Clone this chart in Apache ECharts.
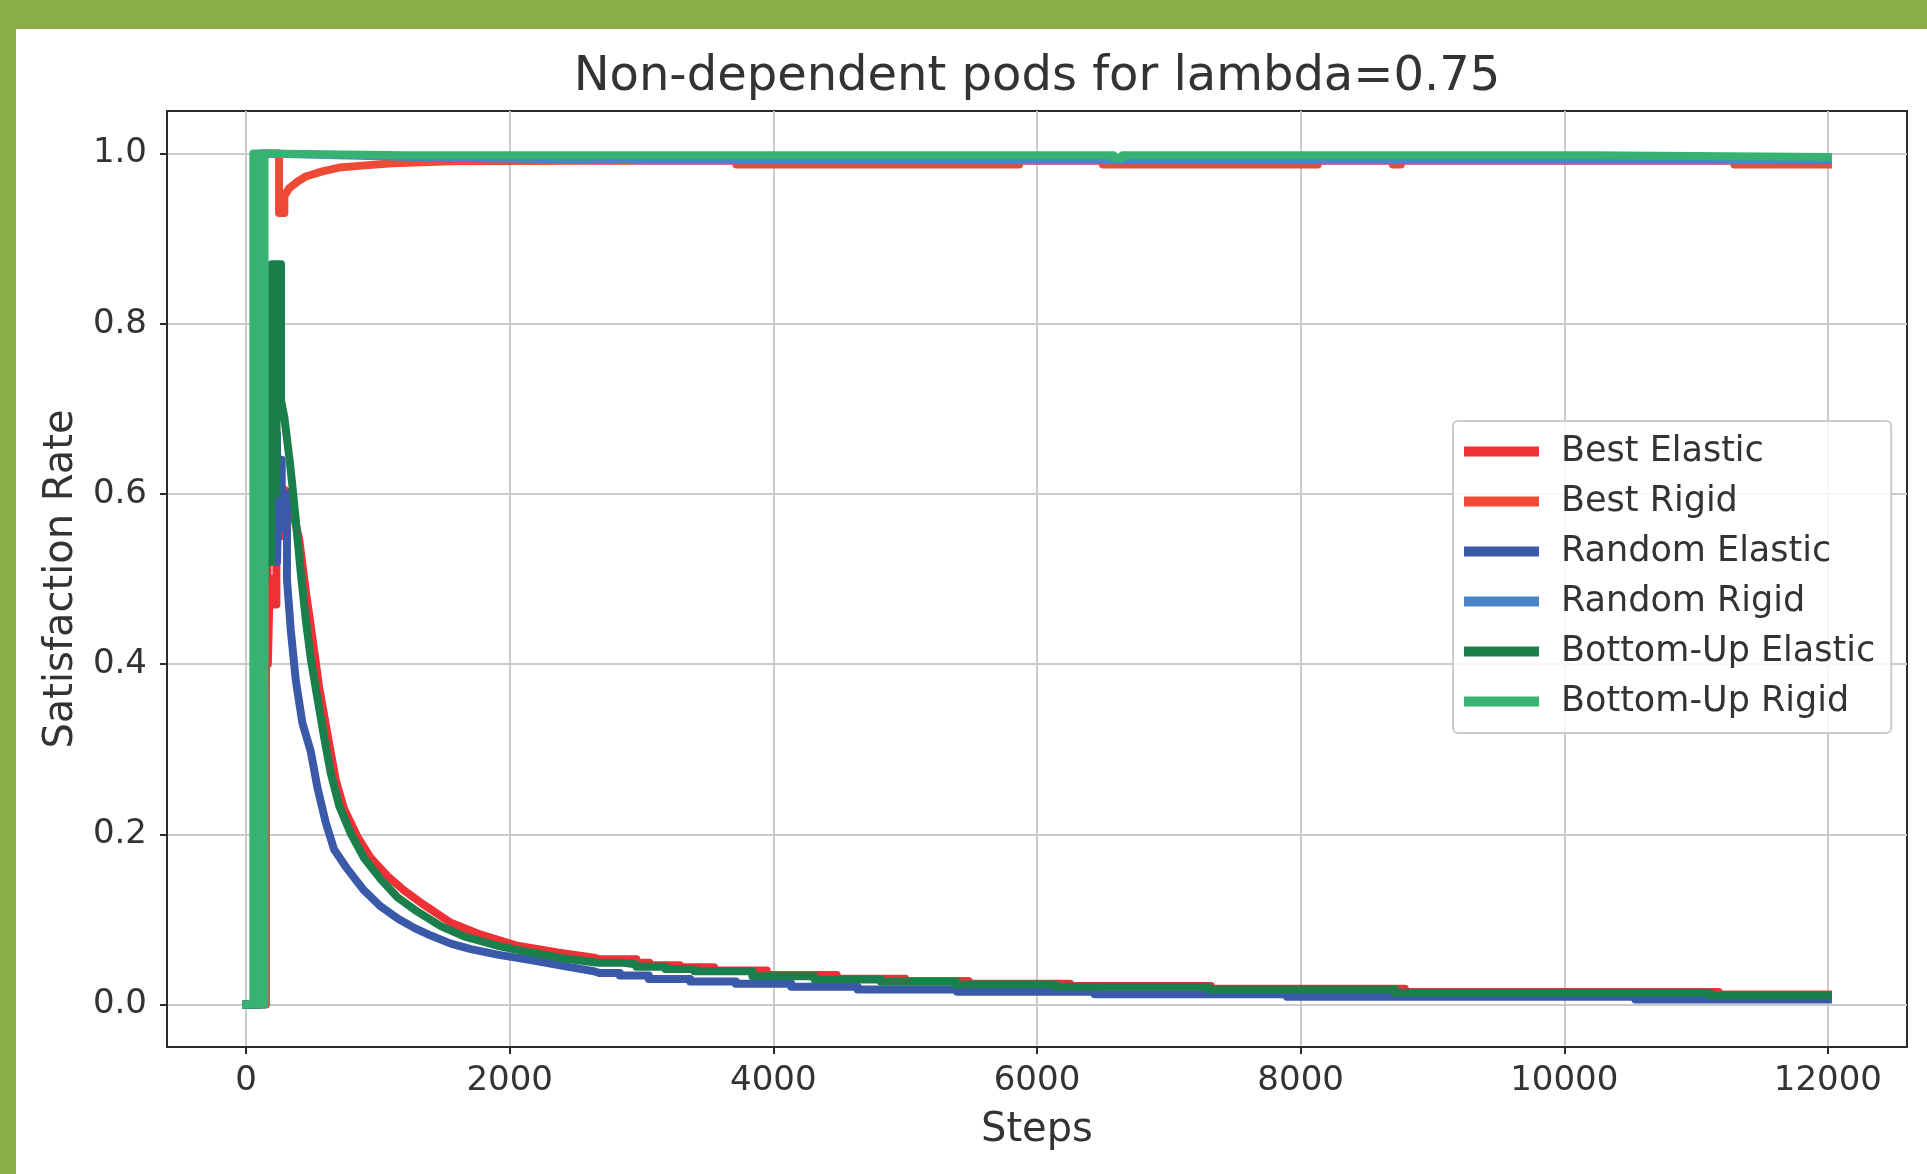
<!DOCTYPE html>
<html>
<head>
<meta charset="utf-8">
<title>Non-dependent pods for lambda=0.75</title>
<script src="https://cdn.jsdelivr.net/npm/echarts/dist/echarts.min.js"></script>
<style>
  html, body {
    margin: 0;
    padding: 0;
    width: 1927px;
    height: 1174px;
    background: #8aad48;
    overflow: hidden;
  }
  #main {
    position: absolute;
    left: 16px;
    top: 29px;
    width: 1911px;
    height: 1145px;
    background: #ffffff;
  }
</style>
</head>
<body>
<div id="main"></div>
<script>
// 数据: [step, satisfaction rate], 台阶处同一 step 写两个点
var seriesNames = ["Best Elastic", "Best Rigid", "Random Elastic", "Random Rigid", "Bottom-Up Elastic", "Bottom-Up Rigid"];
var seriesColors = ["#ed3137", "#ef4a35", "#3a59a8", "#4a86c6", "#1a7f4b", "#38b272"];

var xTicks = [0, 2000, 4000, 6000, 8000, 10000, 12000];
var yTicks = [0, 0.2, 0.4, 0.6, 0.8, 1.0];

var bestElastic = [
  [0, 0], [150, 0], [150, 0.33], [155, 0.33], [155, 0.85], [165, 0.85], [165, 0.40], [180, 0.40],
  [180, 0.5], [200, 0.5], [200, 0.47], [230, 0.47], [230, 0.55], [260, 0.55], [265, 0.61],
  [288, 0.60], [301, 0.604], [351, 0.58], [402, 0.548], [453, 0.486], [503, 0.431], [554, 0.373],
  [617, 0.318], [680, 0.264], [743, 0.230], [845, 0.197], [946, 0.172], [1072, 0.151],
  [1199, 0.134], [1350, 0.117], [1553, 0.096], [1780, 0.082], [2059, 0.069], [2362, 0.061],
  [2640, 0.055], [2678, 0.053], [2960, 0.053], [2960, 0.0489], [3060, 0.0489], [3060, 0.0462],
  [3290, 0.0462], [3290, 0.0438], [3550, 0.0438], [3550, 0.040], [3950, 0.040], [3950, 0.0345],
  [4480, 0.0345], [4480, 0.0303], [5000, 0.0303], [5000, 0.0276], [5480, 0.0276], [5480, 0.0244],
  [6250, 0.0244], [6250, 0.0217], [7320, 0.0217], [7320, 0.0186], [8790, 0.0186], [8790, 0.0147],
  [11170, 0.0147], [11170, 0.0116], [12000, 0.0116]
];

var bestRigid = [
  [0, 0], [110, 0], [110, 1.0], [250, 1.0], [250, 0.93], [290, 0.93], [290, 0.95], [326, 0.959],
  [390, 0.967], [453, 0.973], [579, 0.979], [705, 0.9835], [857, 0.9855], [1110, 0.9887],
  [1565, 0.991], [2500, 0.9915], [3720, 0.9915], [3720, 0.987], [5865, 0.987], [5865, 0.9915],
  [6500, 0.9915], [6500, 0.987], [8130, 0.987], [8130, 0.9915], [8700, 0.9915], [8700, 0.987],
  [8760, 0.987], [8760, 0.9915], [11290, 0.9915], [11290, 0.987], [12000, 0.987]
];

var randomElastic = [
  [0, 0], [110, 0], [110, 0.55], [160, 0.55], [160, 0.6], [210, 0.6], [210, 0.67], [235, 0.67],
  [235, 0.52], [250, 0.52], [250, 0.64], [270, 0.64], [270, 0.56], [290, 0.56], [290, 0.6],
  [310, 0.6], [310, 0.5], [339, 0.44], [377, 0.381], [427, 0.331], [491, 0.297], [541, 0.255],
  [604, 0.214], [668, 0.182], [769, 0.159], [895, 0.134], [1022, 0.115], [1150, 0.101],
  [1275, 0.090], [1401, 0.081], [1553, 0.0715], [1705, 0.065], [1907, 0.0586], [2160, 0.0523],
  [2413, 0.045], [2640, 0.039], [2678, 0.0371], [2835, 0.0371], [2835, 0.034], [3055, 0.034],
  [3055, 0.030], [3369, 0.030], [3369, 0.027], [3715, 0.027], [3715, 0.0242], [4136, 0.0242],
  [4136, 0.0207], [4639, 0.0207], [4639, 0.0176], [5394, 0.0176], [5394, 0.0149], [6438, 0.0149],
  [6438, 0.0121], [7897, 0.0121], [7897, 0.009], [10539, 0.009], [10539, 0.0059], [12000, 0.0059]
];

var randomRigid = [
  [0, 0], [130, 0], [130, 1.0], [1500, 0.995], [3000, 0.992], [12000, 0.992]
];

var bottomUpElastic = [
  [0, 0], [100, 0], [100, 0.5], [145, 0.5], [145, 0.8], [160, 0.8], [160, 0.55], [175, 0.55],
  [175, 0.78], [190, 0.78], [190, 0.52], [195, 0.52], [195, 0.87], [230, 0.87], [230, 0.6],
  [235, 0.6], [235, 0.87], [265, 0.87], [265, 0.71], [290, 0.69], [330, 0.64], [351, 0.61],
  [377, 0.569], [415, 0.507], [453, 0.452], [491, 0.406], [541, 0.360], [592, 0.314],
  [642, 0.272], [705, 0.234], [794, 0.201], [895, 0.172], [1022, 0.147], [1148, 0.126],
  [1300, 0.109], [1477, 0.092], [1654, 0.080], [1907, 0.069], [2160, 0.061], [2413, 0.054],
  [2640, 0.0495], [2678, 0.0489], [2867, 0.0489], [2867, 0.0469], [2961, 0.0469], [2961, 0.0442],
  [3181, 0.0442], [3181, 0.0418], [3401, 0.0418], [3401, 0.039], [3841, 0.039], [3841, 0.0332],
  [4313, 0.0332], [4313, 0.0293], [4816, 0.0293], [4816, 0.0266], [5382, 0.0266], [5382, 0.0234],
  [6137, 0.0234], [6137, 0.0207], [7300, 0.0207], [7300, 0.0176], [8715, 0.0176], [8715, 0.0137],
  [11105, 0.0137], [11105, 0.0106], [12000, 0.0106]
];

var bottomUpRigid = [
  [0, 0], [55, 0], [55, 1.0], [85, 1.0], [85, 0], [100, 0], [100, 1.0], [120, 1.0], [120, 0],
  [140, 0], [140, 1.0], [1200, 0.998], [6580, 0.998], [6580, 0.995], [6650, 0.995], [6650, 0.998],
  [10190, 0.998], [10190, 0.996], [12000, 0.996]
];

var seriesData = [bestElastic, bestRigid, randomElastic, randomRigid, bottomUpElastic, bottomUpRigid];

var fontFamily = "DejaVu Sans";
var textColor = "#333333";
var frameColor = "#2b2b2b";
var gridColor = "#cbcbcb";

var chartDom = document.getElementById("main");
var myChart = echarts.init(chartDom, null, { renderer: "canvas" });

var series = seriesNames.map(function (name, i) {
  return {
    name: name,
    type: "line",
    data: seriesData[i],
    showSymbol: false,
    color: seriesColors[i],
    lineStyle: { width: 8, color: seriesColors[i], cap: "square", join: "round" },
    emphasis: { disabled: true },
  };
});

var option = {
  animation: false,
  backgroundColor: "#ffffff",
  textStyle: { fontFamily: fontFamily },
  graphic: [
    {
      type: "text",
      x: 1021,
      y: 25,
      style: {
        text: "Non-dependent pods for lambda=0.75",
        fontFamily: fontFamily,
        fontSize: 48,
        fill: textColor,
        align: "center",
        verticalAlign: "top",
      },
    },
  ],
  grid: {
    left: 151,
    top: 82,
    width: 1740,
    height: 936,
    show: true,
    borderColor: frameColor,
    borderWidth: 2,
    backgroundColor: "transparent",
  },
  legend: {
    orient: "vertical",
    left: 1437,
    top: 392,
    data: seriesNames,
    icon: "rect",
    itemWidth: 75,
    itemHeight: 10,
    itemGap: 9,
    padding: [10, 16, 11, 11],
    backgroundColor: "rgba(255,255,255,0.85)",
    borderColor: "#cccccc",
    borderWidth: 2,
    borderRadius: 5,
    selectedMode: false,
    textStyle: {
      fontFamily: fontFamily,
      fontSize: 35,
      lineHeight: 41,
      color: textColor,
      padding: [0, 0, 0, 17],
    },
  },
  xAxis: {
    type: "value",
    min: -600,
    max: 12600,
    name: "Steps",
    nameLocation: "middle",
    nameGap: 64,
    nameTextStyle: { fontFamily: fontFamily, fontSize: 40, color: textColor },
    axisLine: { show: true, onZero: false, lineStyle: { color: frameColor, width: 2 } },
    axisTick: {
      show: true,
      length: 7,
      customValues: xTicks,
      lineStyle: { color: frameColor, width: 2 },
    },
    axisLabel: {
      customValues: xTicks,
      margin: 17,
      fontFamily: fontFamily,
      fontSize: 34,
      color: textColor,
      formatter: function (v) {
        return String(v);
      },
    },
    splitLine: { show: true, lineStyle: { color: gridColor, width: 2 } },
  },
  yAxis: {
    type: "value",
    min: -0.05,
    max: 1.05,
    name: "Satisfaction Rate",
    nameLocation: "middle",
    nameRotate: 90,
    nameGap: 82,
    nameTextStyle: { fontFamily: fontFamily, fontSize: 40, color: textColor },
    axisLine: { show: true, onZero: false, lineStyle: { color: frameColor, width: 2 } },
    axisTick: {
      show: true,
      length: 7,
      customValues: yTicks,
      lineStyle: { color: frameColor, width: 2 },
    },
    axisLabel: {
      customValues: yTicks,
      margin: 20,
      fontFamily: fontFamily,
      fontSize: 34,
      color: textColor,
      formatter: function (v) {
        return v.toFixed(1);
      },
    },
    splitLine: { show: true, lineStyle: { color: gridColor, width: 2 } },
  },
  series: series,
};

option && myChart.setOption(option);
</script>
</body>
</html>
